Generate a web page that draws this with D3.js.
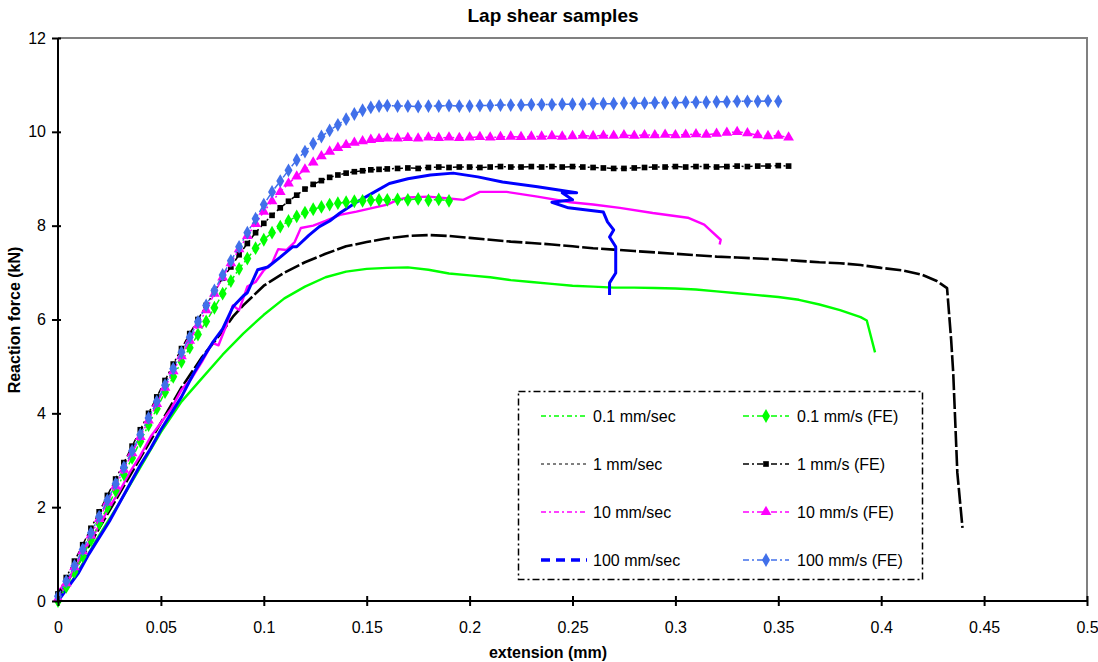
<!DOCTYPE html>
<html>
<head>
<meta charset="utf-8">
<script src="https://cdn.jsdelivr.net/npm/d3@7"></script>
<style>
  body { margin: 0; background: #fff; }
  svg { font-family: "Liberation Sans", Arial, sans-serif; }
</style>
</head>
<body>
<svg id="chart" width="1098" height="662"></svg>
<script>
// tick values
const xTicks = [0, 0.05, 0.1, 0.15, 0.2, 0.25, 0.3, 0.35, 0.4, 0.45, 0.5];
const yTicks = [0, 2, 4, 6, 8, 10, 12];

// experimental curves (extension mm, force kN)
const exp01 = [[0,0.05],[0.005,0.3],[0.01,0.65],[0.02,1.4],[0.03,2.1],[0.04,2.85],[0.05,3.6],[0.06,4.25],[0.07,4.75],[0.08,5.25],[0.09,5.7],[0.1,6.1],[0.11,6.45],[0.12,6.7],[0.13,6.9],[0.14,7.02],[0.15,7.08],[0.16,7.1],[0.17,7.11],[0.18,7.06],[0.19,6.98],[0.2,6.94],[0.21,6.9],[0.22,6.84],[0.23,6.8],[0.24,6.76],[0.25,6.72],[0.26,6.7],[0.27,6.68],[0.28,6.68],[0.29,6.67],[0.3,6.66],[0.31,6.64],[0.32,6.6],[0.33,6.56],[0.34,6.52],[0.35,6.48],[0.36,6.42],[0.37,6.32],[0.38,6.2],[0.39,6.05],[0.393,5.98],[0.397,5.3]];
const exp1 = [[0,0.1],[0.01,0.8],[0.02,1.55],[0.03,2.3],[0.04,3.05],[0.05,3.8],[0.06,4.55],[0.07,5.2],[0.08,5.75],[0.085,6.06],[0.09,6.3],[0.1,6.72],[0.11,7.0],[0.12,7.22],[0.13,7.4],[0.14,7.56],[0.15,7.65],[0.16,7.73],[0.17,7.78],[0.18,7.8],[0.19,7.78],[0.2,7.74],[0.21,7.7],[0.22,7.66],[0.23,7.63],[0.24,7.6],[0.25,7.56],[0.26,7.52],[0.27,7.49],[0.28,7.46],[0.29,7.43],[0.3,7.4],[0.31,7.37],[0.32,7.34],[0.33,7.32],[0.34,7.3],[0.35,7.28],[0.36,7.25],[0.37,7.22],[0.38,7.2],[0.39,7.16],[0.4,7.1],[0.41,7.05],[0.42,6.95],[0.427,6.82],[0.432,6.67],[0.434,5.56],[0.435,4.86],[0.437,2.73],[0.4395,1.56]];
const exp10 = [[0,0.2],[0.005,0.45],[0.01,0.8],[0.015,1.25],[0.02,1.6],[0.025,2.0],[0.03,2.35],[0.035,2.75],[0.04,3.1],[0.045,3.5],[0.05,3.8],[0.055,4.1],[0.06,4.5],[0.065,4.75],[0.07,5.1],[0.075,5.5],[0.078,5.45],[0.082,5.9],[0.085,6.3],[0.088,6.2],[0.092,6.7],[0.096,6.8],[0.1,7.05],[0.104,7.2],[0.107,7.5],[0.111,7.48],[0.115,7.65],[0.118,7.95],[0.124,8.0],[0.13,8.1],[0.137,8.23],[0.145,8.3],[0.153,8.38],[0.16,8.45],[0.165,8.55],[0.17,8.6],[0.18,8.62],[0.19,8.58],[0.197,8.55],[0.205,8.72],[0.218,8.72],[0.233,8.62],[0.249,8.5],[0.26,8.45],[0.273,8.38],[0.289,8.27],[0.306,8.17],[0.314,8.02],[0.322,7.7],[0.3215,7.6]];
const exp100 = [[0,0],[0.005,0.3],[0.01,0.6],[0.015,1.0],[0.02,1.35],[0.025,1.7],[0.03,2.1],[0.035,2.5],[0.04,2.9],[0.045,3.25],[0.05,3.65],[0.055,4.0],[0.06,4.35],[0.066,4.86],[0.07,5.15],[0.075,5.5],[0.08,5.8],[0.085,6.27],[0.09,6.5],[0.092,6.57],[0.097,7.06],[0.102,7.12],[0.108,7.33],[0.114,7.55],[0.116,7.55],[0.122,7.8],[0.127,7.98],[0.132,8.1],[0.137,8.27],[0.145,8.5],[0.153,8.7],[0.161,8.9],[0.17,9.0],[0.181,9.08],[0.192,9.12],[0.204,9.04],[0.216,8.93],[0.233,8.83],[0.252,8.7],[0.245,8.7],[0.25,8.55],[0.24,8.5],[0.248,8.38],[0.265,8.29],[0.267,8.08],[0.27,7.91],[0.268,7.76],[0.271,7.55],[0.271,6.99],[0.268,6.78],[0.268,6.52]];

// FE curves
const fe01 = [[0,0],[0.004,0.3],[0.008,0.62],[0.012,0.95],[0.016,1.3],[0.02,1.65],[0.024,2.0],[0.028,2.35],[0.032,2.7],[0.036,3.05],[0.04,3.4],[0.044,3.75],[0.048,4.1],[0.052,4.45],[0.056,4.78],[0.06,5.1],[0.064,5.4],[0.068,5.68],[0.072,5.96],[0.076,6.25],[0.08,6.55],[0.084,6.82],[0.088,7.08],[0.092,7.3],[0.096,7.52],[0.1,7.7],[0.104,7.85],[0.108,7.98],[0.112,8.1],[0.116,8.2],[0.12,8.28],[0.124,8.35],[0.128,8.4],[0.132,8.45],[0.136,8.48],[0.14,8.5],[0.144,8.52],[0.148,8.53],[0.152,8.54],[0.156,8.55],[0.16,8.55],[0.165,8.56],[0.17,8.55],[0.175,8.57],[0.18,8.54],[0.185,8.56],[0.19,8.53]];
const fe1 = [[0,0.15],[0.004,0.5],[0.008,0.85],[0.012,1.2],[0.016,1.55],[0.02,1.9],[0.024,2.25],[0.028,2.6],[0.032,2.95],[0.036,3.3],[0.04,3.65],[0.044,4.0],[0.048,4.35],[0.052,4.7],[0.056,5.05],[0.06,5.38],[0.064,5.7],[0.068,6.0],[0.072,6.3],[0.076,6.6],[0.08,6.88],[0.084,7.12],[0.088,7.38],[0.092,7.62],[0.096,7.85],[0.1,8.05],[0.104,8.22],[0.108,8.38],[0.112,8.52],[0.116,8.65],[0.12,8.78],[0.124,8.88],[0.128,8.96],[0.132,9.03],[0.136,9.08],[0.14,9.12],[0.144,9.15],[0.148,9.17],[0.152,9.19],[0.156,9.2],[0.16,9.21],[0.165,9.22],[0.17,9.23],[0.175,9.22],[0.18,9.24],[0.185,9.25],[0.19,9.24],[0.195,9.25],[0.2,9.25],[0.205,9.24],[0.21,9.25],[0.215,9.26],[0.22,9.25],[0.225,9.25],[0.23,9.26],[0.235,9.25],[0.24,9.26],[0.245,9.25],[0.25,9.26],[0.255,9.25],[0.26,9.24],[0.265,9.23],[0.27,9.22],[0.275,9.22],[0.28,9.23],[0.285,9.24],[0.29,9.25],[0.295,9.25],[0.3,9.26],[0.305,9.25],[0.31,9.26],[0.315,9.26],[0.32,9.25],[0.325,9.26],[0.33,9.27],[0.335,9.26],[0.34,9.27],[0.345,9.27],[0.35,9.28],[0.355,9.27]];
const fe10 = [[0,0.05],[0.004,0.38],[0.008,0.72],[0.012,1.06],[0.016,1.4],[0.02,1.75],[0.024,2.1],[0.028,2.45],[0.032,2.8],[0.036,3.15],[0.04,3.5],[0.044,3.85],[0.048,4.2],[0.052,4.55],[0.056,4.9],[0.06,5.22],[0.064,5.55],[0.068,5.88],[0.072,6.2],[0.076,6.55],[0.08,6.9],[0.084,7.2],[0.088,7.5],[0.092,7.78],[0.096,8.04],[0.1,8.3],[0.104,8.52],[0.108,8.72],[0.112,8.9],[0.116,9.05],[0.12,9.2],[0.124,9.35],[0.128,9.48],[0.132,9.58],[0.136,9.66],[0.14,9.72],[0.144,9.77],[0.148,9.8],[0.152,9.83],[0.156,9.85],[0.16,9.86],[0.165,9.86],[0.17,9.87],[0.175,9.86],[0.18,9.88],[0.185,9.87],[0.19,9.88],[0.195,9.87],[0.2,9.88],[0.205,9.89],[0.21,9.88],[0.215,9.89],[0.22,9.9],[0.225,9.89],[0.23,9.9],[0.235,9.9],[0.24,9.91],[0.245,9.9],[0.25,9.91],[0.255,9.92],[0.26,9.91],[0.265,9.92],[0.27,9.92],[0.275,9.93],[0.28,9.92],[0.285,9.93],[0.29,9.93],[0.295,9.94],[0.3,9.93],[0.305,9.94],[0.31,9.95],[0.315,9.94],[0.32,9.96],[0.325,9.98],[0.33,10.0],[0.335,9.97],[0.34,9.93],[0.345,9.91],[0.35,9.92],[0.355,9.88]];
const fe100 = [[0,0.1],[0.004,0.42],[0.008,0.75],[0.012,1.1],[0.016,1.45],[0.02,1.8],[0.024,2.15],[0.028,2.5],[0.032,2.85],[0.036,3.2],[0.04,3.55],[0.044,3.9],[0.048,4.25],[0.052,4.6],[0.056,4.95],[0.06,5.3],[0.064,5.62],[0.068,5.95],[0.072,6.3],[0.076,6.62],[0.08,6.95],[0.084,7.25],[0.088,7.55],[0.092,7.85],[0.096,8.15],[0.1,8.45],[0.104,8.72],[0.108,8.95],[0.112,9.18],[0.116,9.4],[0.12,9.58],[0.124,9.75],[0.128,9.9],[0.132,10.03],[0.136,10.15],[0.14,10.27],[0.144,10.38],[0.148,10.46],[0.152,10.52],[0.156,10.55],[0.16,10.56],[0.165,10.55],[0.17,10.55],[0.175,10.54],[0.18,10.55],[0.185,10.55],[0.19,10.56],[0.195,10.55],[0.2,10.55],[0.205,10.56],[0.21,10.56],[0.215,10.57],[0.22,10.57],[0.225,10.57],[0.23,10.58],[0.235,10.58],[0.24,10.58],[0.245,10.59],[0.25,10.59],[0.255,10.59],[0.26,10.6],[0.265,10.6],[0.27,10.6],[0.275,10.61],[0.28,10.61],[0.285,10.61],[0.29,10.62],[0.295,10.62],[0.3,10.62],[0.305,10.63],[0.31,10.63],[0.315,10.63],[0.32,10.64],[0.325,10.64],[0.33,10.65],[0.335,10.65],[0.34,10.65],[0.345,10.66],[0.35,10.65]];

const series = [
  {name: "0.1 mm/sec",     data: exp01,  color: "#00ff00", width: 2.4, dash: null,       legendDash: "5,3,2,3", marker: null},
  {name: "1 mm/sec",       data: exp1,   color: "#000000", width: 2.6, dash: "16,3",     legendDash: "3,3",     legendWidth: 1, marker: null},
  {name: "10 mm/sec",      data: exp10,  color: "#ff00ff", width: 2.4, dash: null,       legendDash: "5,3,2,3", marker: null},
  {name: "100 mm/sec",     data: exp100, color: "#0000ff", width: 3,   dash: null,       legendDash: "9,6",     legendWidth: 3.5, marker: null},
  {name: "0.1 mm/s (FE)",  data: fe01,   color: "#00ff00", width: 1.5, dash: "6,3,2,3",  legendDash: "6,3,2,3", marker: "diamond"},
  {name: "1 mm/s (FE)",    data: fe1,    color: "#000000", width: 1.5, dash: "6,3,2,3",  legendDash: "6,3,2,3", marker: "square"},
  {name: "10 mm/s (FE)",   data: fe10,   color: "#ff00ff", width: 1.5, dash: "6,3,2,3",  legendDash: "6,3,2,3", marker: "triangle"},
  {name: "100 mm/s (FE)",  data: fe100,  color: "#4170ea", width: 1.5, dash: "6,3,2,3",  legendDash: "6,3,2,3", marker: "diamond"}
];

const margin = {top: 38, right: 11, bottom: 61, left: 58},
      W = 1098, H = 662;

const x = d3.scaleLinear().domain([0, 0.5]).range([margin.left, W - margin.right]);
const y = d3.scaleLinear().domain([0, 12]).range([H - margin.bottom, margin.top]);

const svg = d3.select("#chart");

// plot frame: grey top/right
svg.append("path")
   .attr("d", `M${x(0)},${y(12)}H${x(0.5)}V${y(0)}`)
   .attr("fill", "none")
   .attr("stroke", "#808080")
   .attr("stroke-width", 2);

const symbols = {
  diamond: d3.symbol().type(d3.symbolDiamond).size(55),
  square: d3.symbol().type(d3.symbolSquare).size(32),
  triangle: d3.symbol().type(d3.symbolTriangle).size(50)
};

const line = d3.line().x(d => x(d[0])).y(d => y(d[1]));

series.forEach(s => {
  const g = svg.append("g");
  g.append("path")
   .datum(s.data)
   .attr("d", line)
   .attr("fill", "none")
   .attr("stroke", s.color)
   .attr("stroke-width", s.width)
   .attr("stroke-dasharray", s.dash)
   .attr("stroke-linejoin", "round");
  if (s.marker) {
    g.selectAll(".m")
     .data(s.data)
     .enter().append("path")
     .attr("transform", d => `translate(${x(d[0])},${y(d[1])})`)
     .attr("d", symbols[s.marker])
     .attr("fill", s.color);
  }
});

// axes
const yAxis = svg.append("g")
   .attr("transform", `translate(${x(0)},0)`)
   .call(d3.axisLeft(y).tickValues(yTicks).tickSize(6).tickPadding(6).tickFormat(d => String(d)));
const xAxis = svg.append("g")
   .attr("transform", `translate(0,${y(0)})`)
   .call(d3.axisBottom(x).tickValues(xTicks).tickSize(5).tickPadding(16).tickFormat(d => String(d)));

[yAxis, xAxis].forEach(a => {
  a.select(".domain").attr("stroke", "#000").attr("stroke-width", 2);
  a.selectAll(".tick line").attr("stroke", "#000").attr("stroke-width", 2);
  a.selectAll(".tick text").attr("fill", "#000").style("font-size", "16px")
   .style("font-family", "'Liberation Sans', Arial, sans-serif");
});
yAxis.selectAll(".tick line").attr("x1", 3);
xAxis.selectAll(".tick line").attr("y1", -5);
yAxis.select(".domain").attr("d", `M0,${y(0)}V${y(12)}`);
xAxis.select(".domain").attr("d", `M${x(0)},0H${x(0.5)}`);

// titles
svg.append("text")
   .attr("x", 553).attr("y", 22)
   .attr("text-anchor", "middle")
   .style("font-weight", "bold").style("font-size", "19px")
   .text("Lap shear samples");

svg.append("text")
   .attr("x", 548).attr("y", 658)
   .attr("text-anchor", "middle")
   .style("font-weight", "bold").style("font-size", "16px")
   .text("extension (mm)");

svg.append("text")
   .attr("transform", "translate(20,320) rotate(-90)")
   .attr("text-anchor", "middle")
   .style("font-weight", "bold").style("font-size", "16px")
   .text("Reaction force (kN)");

// legend
const legend = svg.append("g");
legend.append("rect")
   .attr("x", 518.5).attr("y", 391.5)
   .attr("width", 404).attr("height", 188)
   .attr("fill", "#fff")
   .attr("stroke", "#000")
   .attr("stroke-width", 1.5)
   .attr("stroke-dasharray", "7,3,2,3");

const rowY = [416, 464, 512, 560];
series.forEach((s, i) => {
  const col = i < 4 ? 0 : 1;
  const row = i % 4;
  const lx = col === 0 ? 541 : 743;
  const ly = rowY[row];
  const item = legend.append("g");
  item.append("line")
      .attr("x1", lx).attr("x2", lx + 46)
      .attr("y1", ly).attr("y2", ly)
      .attr("stroke", s.color)
      .attr("stroke-width", s.legendWidth || 1.5)
      .attr("stroke-dasharray", s.legendDash);
  if (s.marker) {
    item.append("path")
        .attr("transform", `translate(${lx + 23},${ly})`)
        .attr("d", symbols[s.marker])
        .attr("fill", s.color);
  }
  item.append("text")
      .attr("x", col === 0 ? 593 : 797)
      .attr("y", ly + 6)
      .style("font-size", "16px")
      .text(s.name);
});
</script>
</body>
</html>
